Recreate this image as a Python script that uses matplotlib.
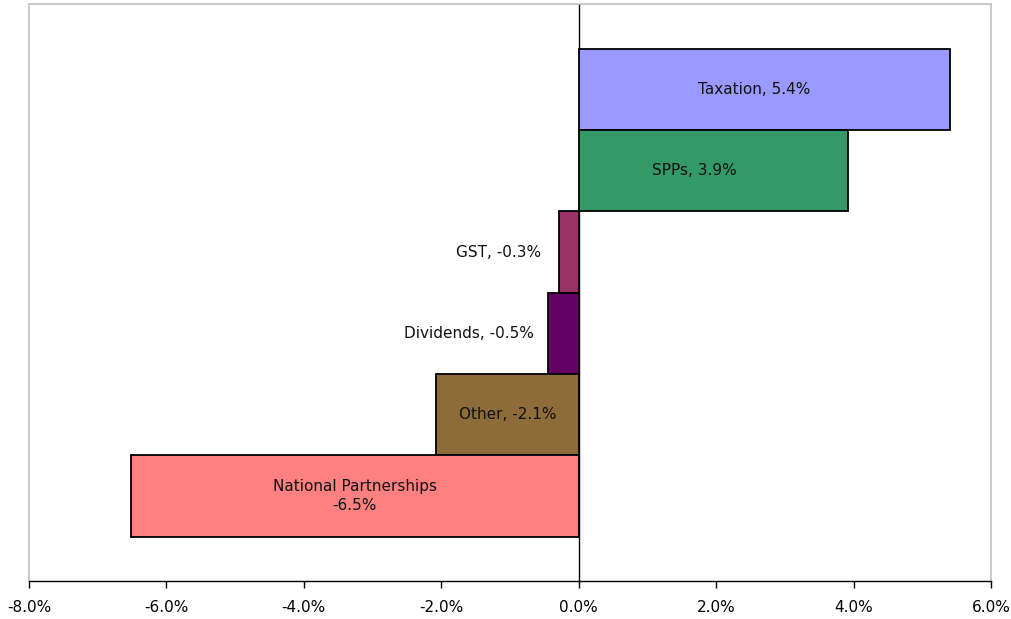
# horizontal contributions chart
import matplotlib
matplotlib.use('Agg')
import matplotlib.pyplot as plt
from matplotlib.ticker import FuncFormatter

# data
categories = ['Taxation', 'SPPs', 'GST', 'Dividends', 'Other', 'National Partnerships']
values = [5.4, 3.92, -0.28, -0.45, -2.07, -6.51]
labels = ['Taxation, 5.4%', 'SPPs, 3.9%', 'GST, -0.3%', 'Dividends, -0.5%',
          'Other, -2.1%', 'National Partnerships\n-6.5%']
label_x = [2.55, 1.69, -0.54, -0.65, -1.03, -3.26]
label_ha = ['center', 'center', 'right', 'right', 'center', 'center']
colors = ['#9999FF', '#339966', '#993366', '#660066', '#8E6C3A', '#FF8080']
x_ticks = [-8, -6, -4, -2, 0, 2, 4, 6]

fig = plt.figure(figsize=(10.11, 6.19), dpi=100)
ax = fig.add_axes([0.0287, 0.0614, 0.9515, 0.9321])

ypos = list(range(len(categories) - 1, -1, -1))
ax.barh(ypos, values, height=1.0, color=colors, edgecolor='black', linewidth=1.3, zorder=2)

for y, lab, lx, ha in zip(ypos, labels, label_x, label_ha):
    ax.text(lx, y, lab, ha=ha, va='center', fontsize=11, color='#111111',
            linespacing=1.3, zorder=3)

ax.axvline(0, color='black', linewidth=1, zorder=1)

ax.set_xlim(-8, 6)
ax.set_ylim(-1.045, 6.05)
ax.set_xticks(x_ticks)
ax.xaxis.set_major_formatter(FuncFormatter(lambda v, p: '%.1f%%' % v))
ax.set_yticks([])
ax.tick_params(axis='x', direction='out', length=5, width=1, labelsize=11, pad=9, color='black')

for side in ['top', 'left', 'right']:
    ax.spines[side].set_color('#c0c0c0')
    ax.spines[side].set_linewidth(1.2)
ax.spines['bottom'].set_color('black')
ax.spines['bottom'].set_linewidth(1)

plt.savefig('out.png', dpi=100)
